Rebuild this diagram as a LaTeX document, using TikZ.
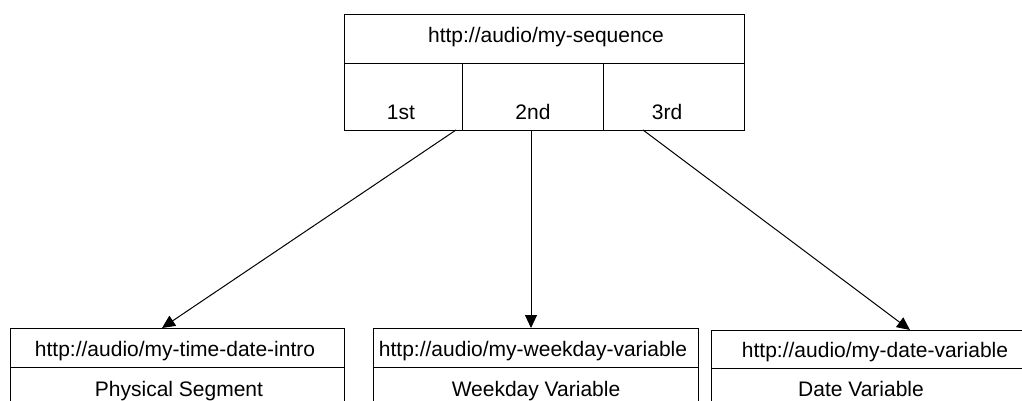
\documentclass[tikz,border=0pt]{standalone}
\usepackage{fontspec}
\setmainfont{Liberation Sans}
\usetikzlibrary{arrows.meta}
\begin{document}
\begin{tikzpicture}[x=1pt,y=-1pt,
  box/.style={draw, line width=1.2pt, rectangle, inner sep=0pt, anchor=north west},
  txt/.style={font=\fontsize{21}{25}\selectfont, inner sep=0pt, anchor=base},
  link/.style={line width=1pt, -{Triangle[length=13pt,width=12pt]}}]
\useasboundingbox (0,0) rectangle (1022,400);
\clip (0,0) rectangle (1022,400);
\fill[white] (0,0) rectangle (1022,400);

% sequence box: title row and three slots
\node[box, minimum width=400, minimum height=49] (seq) at (344,14) {};
\node[box, minimum width=118, minimum height=67] (s1) at (344,63) {};
\node[box, minimum width=141, minimum height=67] (s2) at (462,63) {};
\node[box, minimum width=141, minimum height=67] (s3) at (603,63) {};
\node[txt] (seqt) at (546,42) {http://audio/my-sequence};
\node[txt] (s1t) at (401,119) {1st};
\node[txt] (s2t) at (533,119) {2nd};
\node[txt] (s3t) at (667,119) {3rd};

% target resources
\node[box, minimum width=334, minimum height=39] (r1) at (10,328) {};
\node[box, minimum width=334, minimum height=60] (r1b) at (10,367) {};
\node[txt] (r1t) at (175,356) {http://audio/my-time-date-intro};
\node[txt] (r1l) at (179,396) {Physical Segment};

\node[box, minimum width=325, minimum height=39] (r2) at (373,328) {};
\node[box, minimum width=325, minimum height=60] (r2b) at (373,367) {};
\node[txt] (r2t) at (533,356) {http://audio/my-weekday-variable};
\node[txt] (r2l) at (536,396) {Weekday Variable};

\node[box, minimum width=330, minimum height=38] (r3) at (711,330) {};
\node[box, minimum width=330, minimum height=60] (r3b) at (711,368) {};
\node[txt] (r3t) at (875,357) {http://audio/my-date-variable};
\node[txt] (r3l) at (861,396) {Date Variable};

% connector end points
\coordinate (a1) at (456,130);
\coordinate (a2) at (531,130);
\coordinate (a3) at (643,130);
\coordinate (b1) at (162,328);
\coordinate (b2) at (531,328);
\coordinate (b3) at (910,330);

\draw[link] (a1) -- (b1);
\draw[link] (a2) -- (b2);
\draw[link] (a3) -- (b3);
\end{tikzpicture}
\end{document}
